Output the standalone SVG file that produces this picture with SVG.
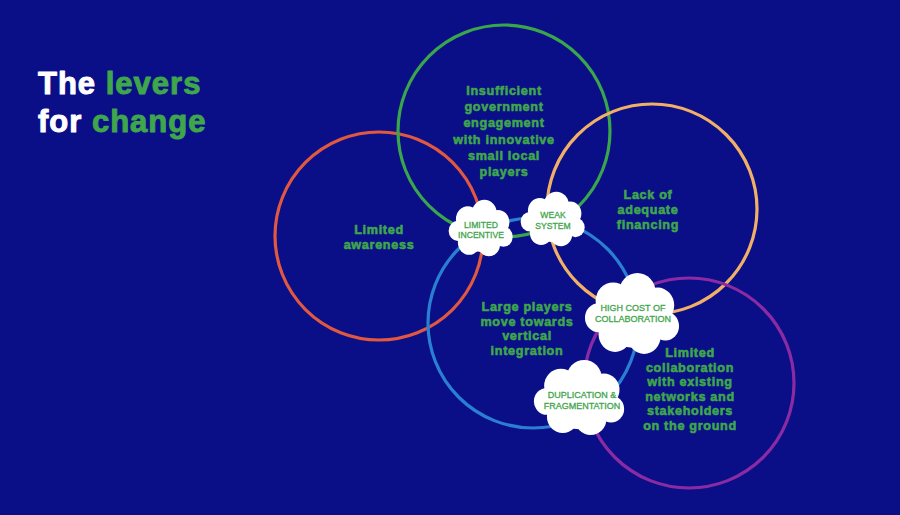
<svg xmlns="http://www.w3.org/2000/svg" xmlns:xlink="http://www.w3.org/1999/xlink" width="900" height="515" viewBox="0 0 900 515">
<style>
.ring{fill:none;stroke-width:3.2}
.lbl{font-family:"Liberation Sans",Arial,sans-serif;font-weight:700;font-size:12.6px;letter-spacing:0.7px;fill:#3fa64c;stroke:#3fa64c;stroke-width:0.6;stroke-linejoin:round;text-anchor:middle}
.cl{font-family:"Liberation Sans",Arial,sans-serif;font-weight:400;font-size:9px;fill:#3fa64c;stroke:#3fa64c;stroke-width:0.3;text-anchor:middle}
.sm{font-size:8.6px}
.title{font-family:"Liberation Sans",Arial,sans-serif;font-weight:700;font-size:31px;letter-spacing:1px;stroke-width:1;stroke-linejoin:round}
</style>
<defs>
<symbol id="cloud" viewBox="0 0 100 80" preserveAspectRatio="none">
<g fill="#ffffff">
<circle cx="50" cy="42" r="31"/>
<circle cx="30" cy="28" r="18"/>
<circle cx="55" cy="20" r="19"/>
<circle cx="76" cy="32" r="17"/>
<circle cx="84" cy="52" r="14"/>
<circle cx="62" cy="62" r="17"/>
<circle cx="32" cy="60" r="17"/>
<circle cx="15" cy="44" r="14"/>
</g>
</symbol>
</defs>
<rect width="900" height="515" fill="#0a0f88"/>
<g id="title">
<text class="title" x="38" y="93.5"><tspan fill="#ffffff" stroke="#ffffff">The </tspan><tspan fill="#3fa64c" stroke="#3fa64c">levers</tspan></text>
<text class="title" x="38" y="132"><tspan fill="#ffffff" stroke="#ffffff">for </tspan><tspan fill="#3fa64c" stroke="#3fa64c">change</tspan></text>
</g>
<g id="connectors">
<circle class="ring" cx="379" cy="236" r="104" stroke="#e0583f"/>
<circle class="ring" cx="504" cy="131" r="106" stroke="#3aa64b"/>
<circle class="ring" cx="652" cy="209" r="105" stroke="#f2b066"/>
<circle class="ring" cx="533" cy="323" r="105" stroke="#2a7fd2"/>
<circle class="ring" cx="689" cy="383" r="105" stroke="#8b2ba3"/>
</g>
<g id="n-awareness">
<text class="lbl" x="379" y="234">Limited</text>
<text class="lbl" x="379" y="248.5">awareness</text>
</g>
<g id="n-government">
<text class="lbl" x="504" y="95">Insufficient</text>
<text class="lbl" x="504" y="111.2">government</text>
<text class="lbl" x="504" y="127.4">engagement</text>
<text class="lbl" x="504" y="143.6">with innovative</text>
<text class="lbl" x="504" y="159.8">small local</text>
<text class="lbl" x="504" y="176">players</text>
</g>
<g id="n-financing">
<text class="lbl" x="648" y="199">Lack of</text>
<text class="lbl" x="648" y="213.7">adequate</text>
<text class="lbl" x="648" y="228.5">financing</text>
</g>
<g id="n-large">
<text class="lbl" x="527" y="311">Large players</text>
<text class="lbl" x="527" y="325.5">move towards</text>
<text class="lbl" x="527" y="340">vertical</text>
<text class="lbl" x="527" y="354.5">integration</text>
</g>
<g id="n-collab">
<text class="lbl" x="690" y="357">Limited</text>
<text class="lbl" x="690" y="371.6">collaboration</text>
<text class="lbl" x="690" y="386.2">with existing</text>
<text class="lbl" x="690" y="400.8">networks and</text>
<text class="lbl" x="690" y="415.4">stakeholders</text>
<text class="lbl" x="690" y="430">on the ground</text>
</g>
<g id="c-incentive">
<use xlink:href="#cloud" x="448" y="199" width="66" height="58"/>
<text class="cl sm" x="481" y="227.5">LIMITED</text>
<text class="cl sm" x="481" y="238">INCENTIVE</text>
</g>
<g id="c-weak">
<use xlink:href="#cloud" x="520" y="191" width="66" height="56"/>
<text class="cl sm" x="553" y="218">WEAK</text>
<text class="cl sm" x="553" y="228.5">SYSTEM</text>
</g>
<g id="c-highcost">
<use xlink:href="#cloud" x="584" y="272" width="97" height="83"/>
<text class="cl" x="633" y="311">HIGH COST OF</text>
<text class="cl" x="633" y="322">COLLABORATION</text>
</g>
<g id="c-duplication">
<use xlink:href="#cloud" x="533" y="359" width="93" height="77"/>
<text class="cl" x="582" y="398">DUPLICATION &amp;</text>
<text class="cl" x="582" y="409">FRAGMENTATION</text>
</g>
</svg>
